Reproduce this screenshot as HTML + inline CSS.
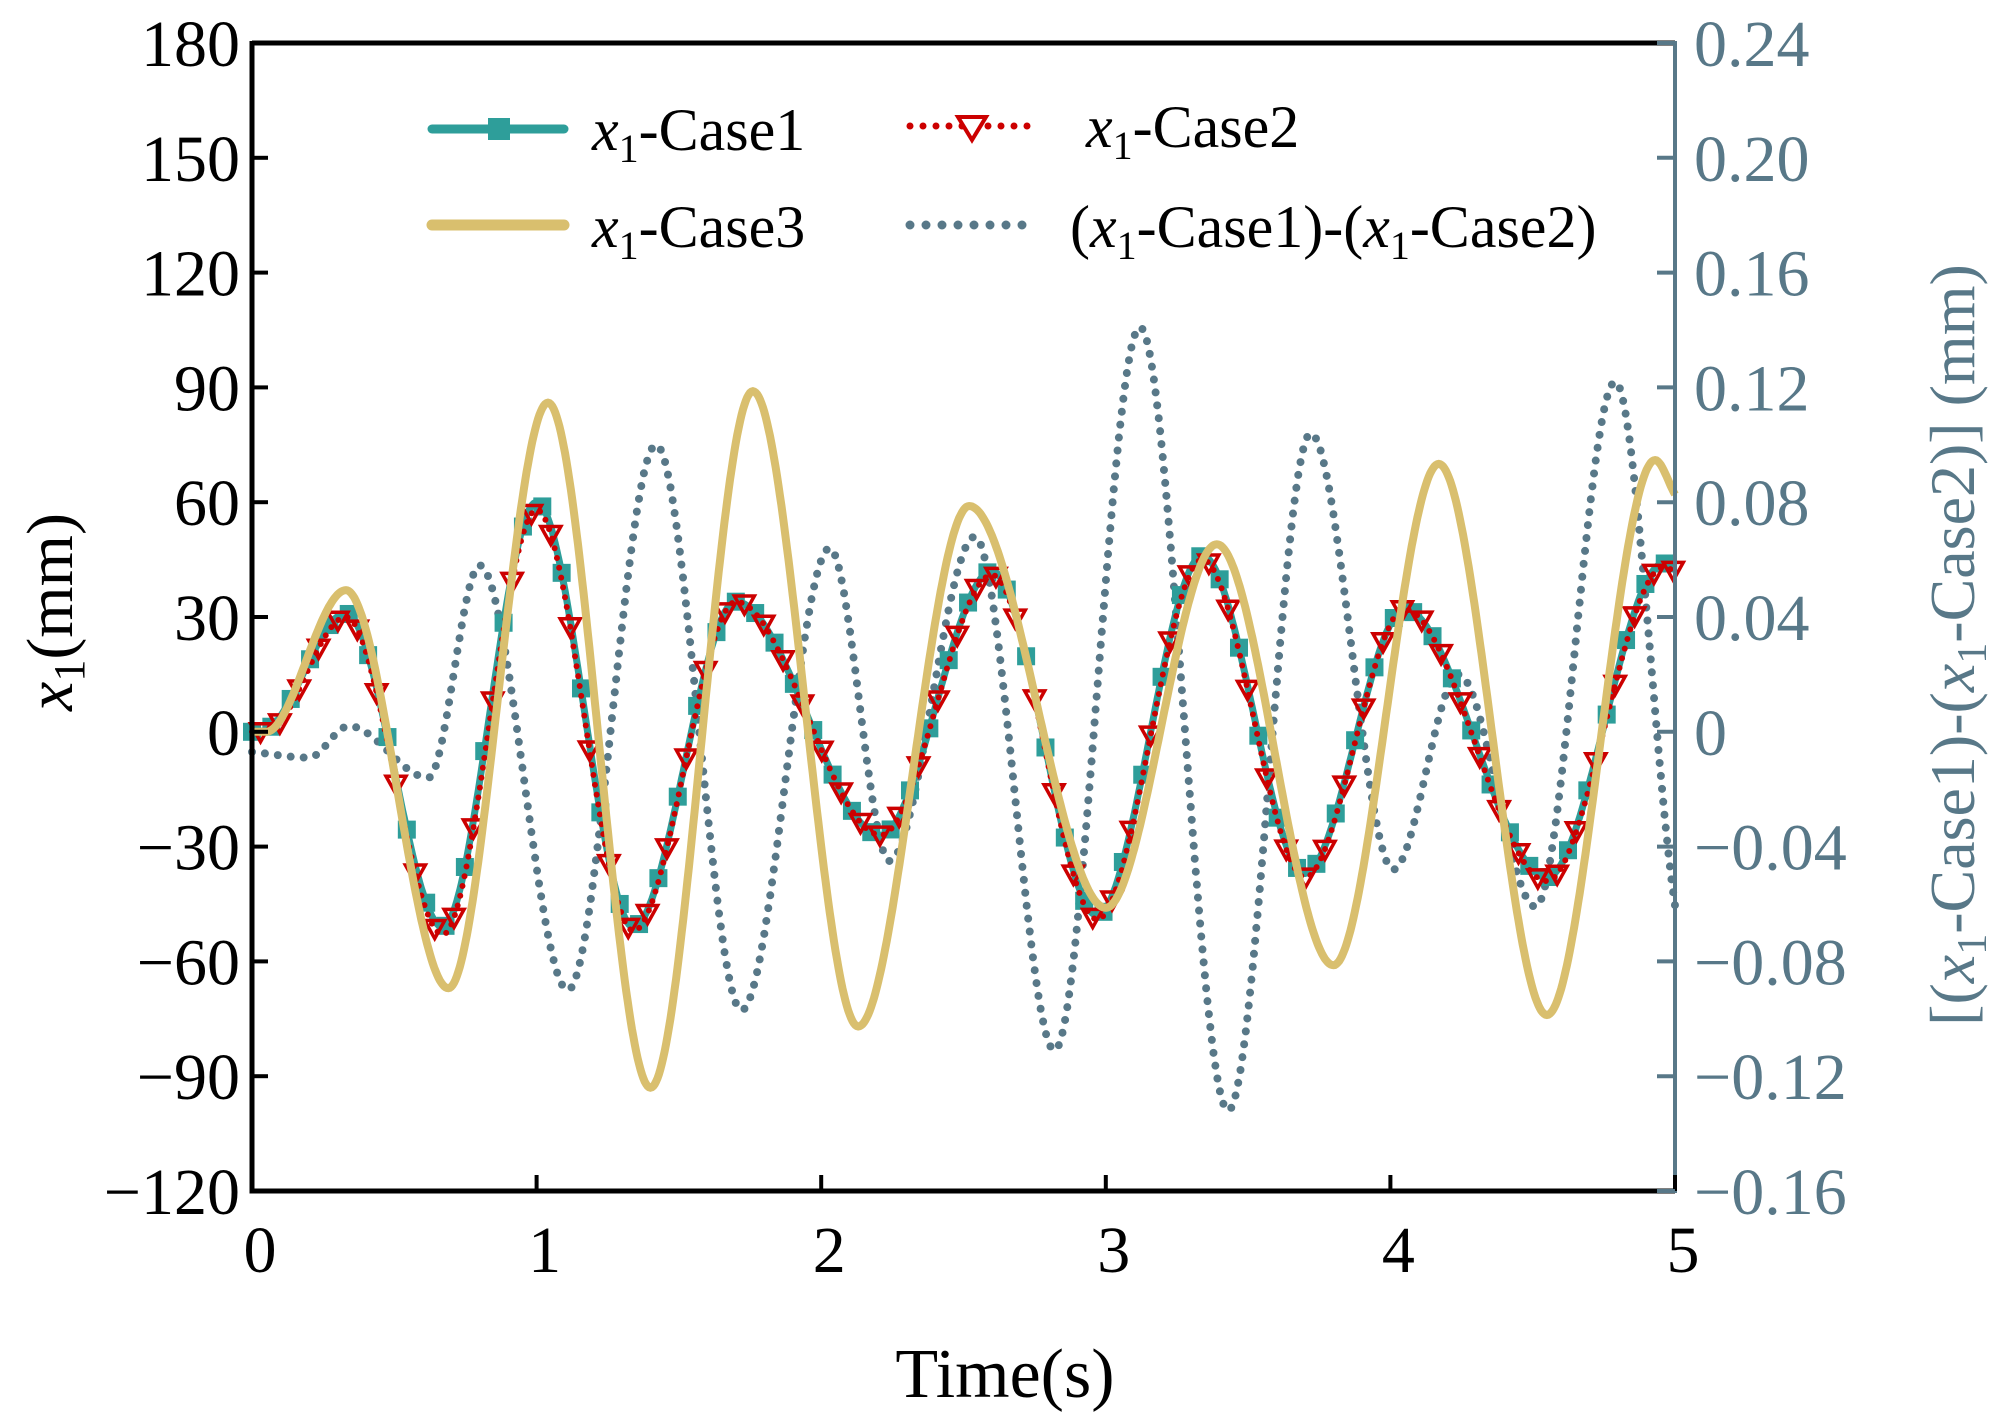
<!DOCTYPE html>
<html><head><meta charset="utf-8"><style>
html,body{margin:0;padding:0;background:#fff}
body{position:relative}
svg{display:block}
text{font-family:"Liberation Serif",serif}
</style></head><body>
<svg id="chart" width="2006" height="1422" viewBox="0 0 2006 1422" xmlns="http://www.w3.org/2000/svg">
<g id="plot"></g>
<g id="axes"></g>
</svg>
<script>
// ---- data (key extrema, time in s) ----
const case1T = [0,0.05,0.33,0.67,1.0,1.34,1.7,2.21,2.6,2.97,3.34,3.7,4.05,4.55,4.96,5.0];
const case1V = [0,0.5,31,-51,60,-51,34,-27,42,-48,46,-37,32,-38,44,43];
const case2T = [0,0.05,0.33,0.67,1.0,1.34,1.7,2.21,2.6,2.97,3.34,3.7,4.05,4.55,4.96,5.0];
const case2V = [0,0,30,-53,58,-52,34,-27,41,-49,45,-38,32,-39,43,42];
const case3T = [0,0.05,0.33,0.69,1.04,1.40,1.76,2.13,2.52,3.0,3.39,3.80,4.17,4.55,4.93,5.0];
const case3V = [0,0,37,-67,86,-93,89,-77,59,-46,49,-61,70,-74,71,62];
const diffT = [0,0.2,0.34,0.62,0.80,1.11,1.42,1.72,2.03,2.24,2.54,2.82,3.12,3.43,3.72,4.01,4.24,4.51,4.79,4.98];
const diffV = [-0.007,-0.009,0.002,-0.016,0.058,-0.09,0.10,-0.097,0.064,-0.045,0.068,-0.111,0.141,-0.132,0.104,-0.048,0.020,-0.061,0.122,-0.045];
const xTicks = [0,1,2,3,4,5];
const yTicks = [180,150,120,90,60,30,0,-30,-60,-90,-120];
const y2Ticks = [0.24,0.20,0.16,0.12,0.08,0.04,0,-0.04,-0.08,-0.12,-0.16];
const y2Labels = ["0.24","0.20","0.16","0.12","0.08","0.04","0","\u22120.04","\u22120.08","\u22120.12","\u22120.16"];

const L=252,R=1675,T=43,B=1191;
const xs=t=>L+(t-0)/(5-0)*(R-L);
const ys=v=>B-(v+120)/300*(B-T);
const ys2=v=>B-(v+0.16)/0.40*(B-T);
const NS="http://www.w3.org/2000/svg";
function mk(tag,attrs,parent){const e=document.createElementNS(NS,tag);for(const k in attrs)e.setAttribute(k,attrs[k]);parent.appendChild(e);return e;}

function mono(T_,V){const n=T_.length,d=[],m=new Array(n);
 for(let i=0;i<n-1;i++)d.push((V[i+1]-V[i])/(T_[i+1]-T_[i]));
 m[0]=d[0];m[n-1]=d[n-2];
 for(let i=1;i<n-1;i++){m[i]=(d[i-1]*d[i]<=0)?0:(d[i-1]+d[i])/2;}
 for(let i=0;i<n-1;i++){if(d[i]===0){m[i]=0;m[i+1]=0;continue;}const a=m[i]/d[i],b=m[i+1]/d[i],s=a*a+b*b;if(s>9){const t=3/Math.sqrt(s);m[i]=t*a*d[i];m[i+1]=t*b*d[i];}}
 return function(t){let i=0;while(i<n-2&&t>T_[i+1])i++;const h=T_[i+1]-T_[i],u=(t-T_[i])/h;
  const h00=2*u*u*u-3*u*u+1,h10=u*u*u-2*u*u+u,h01=-2*u*u*u+3*u*u,h11=u*u*u-u*u;
  return h00*V[i]+h10*h*m[i]+h01*V[i+1]+h11*h*m[i+1];};}
function pathOf(f,ysf){let s="";for(let k=0;k<=1000;k++){const t=k*0.005;s+=(k?"L":"M")+xs(t).toFixed(1)+","+ysf(f(t)).toFixed(1);}return s;}

const plot=document.getElementById('plot');
const f1=mono(case1T,case1V),f2=mono(case2T,case2V),f3=mono(case3T,case3V),fd=mono(diffT,diffV);

let p;
p=mk('path',{d:pathOf(fd,ys2),fill:'none',stroke:'#587888','stroke-width':8,'stroke-linecap':'round','stroke-dasharray':'0 13'},plot);


p=mk('path',{d:pathOf(f1,ys),fill:'none',stroke:'#2e9e9a','stroke-width':7},plot);


for(let t=0;t<=5.001;t+=0.068){const r=mk('rect',{x:xs(t)-9,y:ys(f1(t))-9,width:18,height:18,fill:'#2e9e9a'},plot);
 
 }
p=mk('path',{d:pathOf(f2,ys),fill:'none',stroke:'#cc0000','stroke-width':6,'stroke-linecap':'round','stroke-dasharray':'0 10'},plot);


for(let t=0.03;t<=5.001;t+=0.068){const x=xs(t),y=ys(f2(t));
 const tr=mk('path',{d:`M${x-10},${y-8}L${x+10},${y-8}L${x},${y+10}Z`,fill:'none',stroke:'#cc0000','stroke-width':3.5},plot);
 
 }
p=mk('path',{d:pathOf(f3,ys),fill:'none',stroke:'#d9bf6e','stroke-width':8},plot);



const ax=document.getElementById('axes');
let e;
e=mk('path',{d:`M${L},${T}L${R},${T}`,stroke:'#000','stroke-width':5},ax);

e=mk('path',{d:`M${L},${T-2}L${L},${B}L${R},${B}`,fill:'none',stroke:'#000','stroke-width':5},ax);

e=mk('path',{d:`M${R},${T-2}L${R},${B+2}`,stroke:'#587888','stroke-width':4},ax);

xTicks.forEach(v=>{
 const tk=mk('path',{d:`M${xs(v)},${B}L${xs(v)},${B-16}`,stroke:'#000','stroke-width':4},ax);
 
 const tx=mk('text',{x:xs(v)+8,y:1272,'font-size':66,'text-anchor':'middle',fill:'#000'},ax);tx.textContent=v;
 });
yTicks.forEach(v=>{
 const tk=mk('path',{d:`M${L},${ys(v)}L${L+16},${ys(v)}`,stroke:'#000','stroke-width':4},ax);
 
 const tx=mk('text',{x:240,y:ys(v)+23,'font-size':66,'text-anchor':'end',fill:'#000'},ax);tx.textContent=(v<0?'\u2212'+(-v):v);
 });
y2Ticks.forEach((v,i)=>{
 const tk=mk('path',{d:`M${R},${ys2(v)}L${R-18},${ys2(v)}`,stroke:'#587888','stroke-width':4},ax);
 
 const tx=mk('text',{x:1694,y:ys2(v)+23,'font-size':66,fill:'#587888'},ax);tx.textContent=y2Labels[i];
 });
</script>
<svg style="position:absolute;left:0;top:0" width="2006" height="1422">
<text x="1005" y="1397" font-size="70" text-anchor="middle" font-family="Liberation Serif">Time(s)</text>
<text transform="translate(72,612) rotate(-90)" font-size="66" text-anchor="middle" font-family="Liberation Serif"><tspan font-style="italic">x</tspan><tspan font-size="44" dy="12">1</tspan><tspan dy="-12">(mm)</tspan></text>
<text transform="translate(1974,645) rotate(-90)" font-size="64" text-anchor="middle" fill="#587888" font-family="Liberation Serif">[(<tspan font-style="italic">x</tspan><tspan font-size="42" dy="12">1</tspan><tspan dy="-12">-Case1)-(</tspan><tspan font-style="italic">x</tspan><tspan font-size="42" dy="12">1</tspan><tspan dy="-12">-Case2)] (mm)</tspan></text>
<g>
<line x1="432" y1="129" x2="564" y2="129" stroke="#2e9e9a" stroke-width="9" stroke-linecap="round"/>
<rect x="488" y="118" width="22" height="22" fill="#2e9e9a"/>
<text x="592" y="150" font-size="60" font-family="Liberation Serif"><tspan font-style="italic">x</tspan><tspan font-size="40" dy="12">1</tspan><tspan dy="-12">-Case1</tspan></text>
</g>
<g>
<line x1="910" y1="126" x2="1030" y2="126" stroke="#cc0000" stroke-width="7" stroke-linecap="round" stroke-dasharray="0 13"/>
<path d="M958,117L986,117L972,140Z" fill="#fff" stroke="#cc0000" stroke-width="4"/>
<text x="1086" y="147" font-size="60" font-family="Liberation Serif"><tspan font-style="italic">x</tspan><tspan font-size="40" dy="12">1</tspan><tspan dy="-12">-Case2</tspan></text>
</g>
<g>
<line x1="432" y1="225" x2="564" y2="225" stroke="#d9bf6e" stroke-width="11" stroke-linecap="round"/>
<text x="592" y="247" font-size="60" font-family="Liberation Serif"><tspan font-style="italic">x</tspan><tspan font-size="40" dy="12">1</tspan><tspan dy="-12">-Case3</tspan></text>
</g>
<g>
<line x1="910" y1="225" x2="1030" y2="225" stroke="#587888" stroke-width="9" stroke-linecap="round" stroke-dasharray="0 16"/>
<text x="1070" y="247" font-size="60" font-family="Liberation Serif">(<tspan font-style="italic">x</tspan><tspan font-size="40" dy="12">1</tspan><tspan dy="-12">-Case1)-(</tspan><tspan font-style="italic">x</tspan><tspan font-size="40" dy="12">1</tspan><tspan dy="-12">-Case2)</tspan></text>
</g>
</svg>
</body></html>
